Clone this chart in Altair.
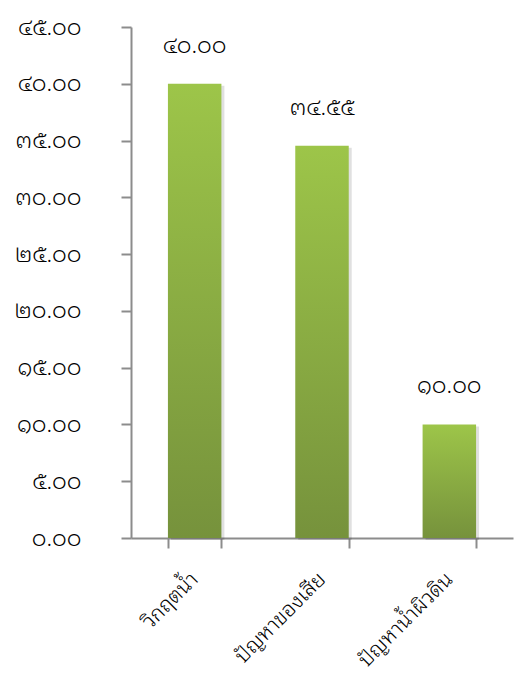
import altair as alt
import pandas as pd

categories = ["วิกฤตน้ำ", "ปัญหาของเสีย", "ปัญหาน้ำผิวดิน"]
values = [40.00, 34.55, 10.00]
tick_values = [0, 5, 10, 15, 20, 25, 30, 35, 40, 45]

THAI = str.maketrans("0123456789", "๐๑๒๓๔๕๖๗๘๙")

def thai(v):
    return f"{v:.2f}".translate(THAI)

df = pd.DataFrame({
    "cat": categories,
    "val": values,
    "label": [thai(v) for v in values],
})

lookup = "{" + ",".join(f"'{t}':'{thai(t)}'" for t in tick_values) + "}"

FONT = "Noto Sans Thai Looped"

x = alt.X("cat:N", sort=categories, title=None,
          scale=alt.Scale(paddingInner=0.58, paddingOuter=0.29),
          axis=alt.Axis(labelAngle=-45, labelAlign="right", labelBaseline="middle",
                        labelFont=FONT, labelFontSize=21, labelFontWeight=300, labelColor="#000",
                        labelPadding=28, domainColor="#8c8c8c", tickColor="#8c8c8c",
                        tickSize=10, tickBand="extent", domainWidth=2, tickWidth=2))
y = alt.Y("val:Q", title=None,
          scale=alt.Scale(domain=[0, 45], nice=False),
          axis=alt.Axis(values=tick_values, labelExpr=f"{lookup}[''+datum.value]",
                        labelFont=FONT, labelFontSize=23, labelFontWeight=300, labelColor="#000",
                        labelPadding=40, domainColor="#8c8c8c", tickColor="#8c8c8c",
                        tickSize=10, grid=False, domainWidth=2, tickWidth=2))

base = alt.Chart(df)

shadow = base.mark_bar(color="#000000", opacity=0.12, xOffset=3, yOffset=2).encode(x=x, y=y)

bars = base.mark_bar(
    color=alt.Gradient(gradient="linear",
                       stops=[alt.GradientStop(color="#76923c", offset=0),
                              alt.GradientStop(color="#9dc549", offset=1)],
                       x1=1, x2=1, y1=1, y2=0)
).encode(x=x, y=y)

text = base.mark_text(font=FONT, fontSize=23, fontWeight=300, baseline="bottom", dy=-26, color="#000").encode(
    x=x, y=y, text="label:N")

chart = (shadow + bars + text).properties(
    width=382, height=511,
    padding={"top": 8, "left": 5, "right": 5, "bottom": 5},
).configure_view(stroke=None)

chart.save("out.html", embed_options={"renderer": "svg", "actions": False})
